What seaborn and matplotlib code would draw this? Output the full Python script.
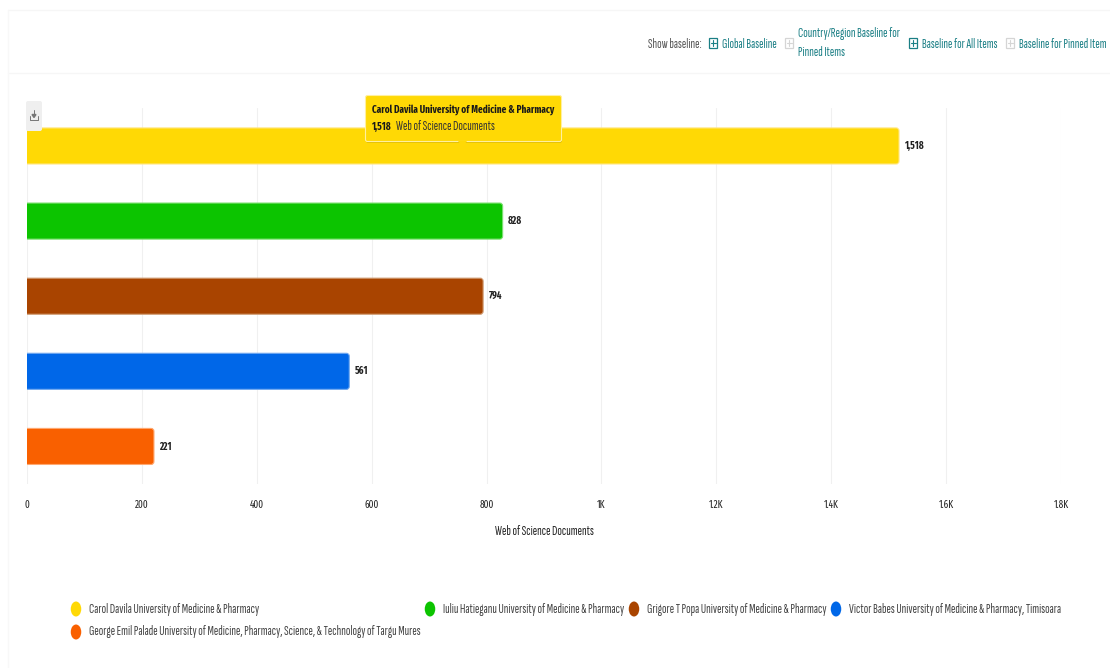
import pandas as pd
import matplotlib
matplotlib.use("Agg")
import matplotlib.pyplot as plt
import seaborn as sns
from matplotlib.patches import Ellipse, FancyBboxPatch, Polygon, Rectangle

universities = [
    "Carol Davila University of Medicine & Pharmacy",
    "Iuliu Hatieganu University of Medicine & Pharmacy",
    "Grigore T Popa University of Medicine & Pharmacy",
    "Victor Babes University of Medicine & Pharmacy, Timisoara",
    "George Emil Palade University of Medicine, Pharmacy, Science, & Technology of Targu Mures",
]
documents = [1518, 828, 794, 561, 221]
document_labels = ["1,518", "828", "794", "561", "221"]
tick_values = [0, 200, 400, 600, 800, 1000, 1200, 1400, 1600, 1800]
tick_labels = ["0", "200", "400", "600", "800", "1K", "1.2K", "1.4K", "1.6K", "1.8K"]
bar_colors = ["#FFD905", "#0CC400", "#A94400", "#0067E8", "#F96000"]
edge_colors = ["#FFE680", "#7BE070", "#D09A70", "#70A8F0", "#FFA870"]

W, H = 1110, 668
TEAL = "#1B7F85"
GREY = "#555555"
FONT_SIZE = 9.5
FIRA_SIZE = 7.2
FIRA_FONT = ["Fira Sans Extra Condensed", "Lato", "DejaVu Sans"]

sns.set_theme(style="white")
plt.rcParams["font.family"] = ["Sofia Sans Extra Condensed", "Fira Sans Extra Condensed", "Lato", "DejaVu Sans"]

df = pd.DataFrame({"University": universities, "Documents": documents})

fig = plt.figure(figsize=(W / 100, H / 100), dpi=100, facecolor="white")
ax = fig.add_axes([27 / W, 1 - 484 / H, (1061 - 27) / W, (484 - 108.4) / H])

sns.barplot(
    data=df, y="University", x="Documents", hue="University",
    palette=bar_colors, width=0.48, dodge=False, legend=False, ax=ax,
)

ax.set_xlim(0, 1800)
ax.set_xticks(tick_values)
# the dot in 1.2K gets lost in the narrower font
ax.set_xticklabels(tick_labels, fontsize=FIRA_SIZE, family=FIRA_FONT, color="#222222")
ax.tick_params(axis="x", length=0, pad=11)
ax.set_yticks([])
ax.set_ylabel("")
ax.set_xlabel("Web of Science Documents", fontsize=FONT_SIZE, color="#222222", labelpad=11)
ax.grid(axis="x", color="#F0F0F0", linewidth=0.8)
ax.set_axisbelow(True)
ax.spines[["top", "right", "left", "bottom"]].set_visible(False)

# rounded ends on the right side of each bar, left end is clipped by the axes
for i, container in enumerate(ax.containers):
    bar = container[0]
    bar.set_alpha(0)
    rounded = FancyBboxPatch(
        (bar.get_x() - 20, bar.get_y()), bar.get_width() + 20, bar.get_height(),
        boxstyle="round,pad=0,rounding_size=5", mutation_aspect=0.008,
        facecolor=bar_colors[i], edgecolor=edge_colors[i], linewidth=0.8, zorder=3,
    )
    ax.add_patch(rounded)
    ax.bar_label(container, labels=[document_labels[i]], padding=4, fontsize=FIRA_SIZE,
                 fontweight="bold", family=FIRA_FONT, color="#222222")

# overlay in reference pixels for the page furniture around the chart
over = fig.add_axes([0, 0, 1, 1], zorder=5)
over.set_xlim(0, W)
over.set_ylim(H, 0)
over.axis("off")
over.patch.set_alpha(0)

for y in (10, 73):
    over.plot([8, W], [y, y], color="#F6F6F6", lw=1)
over.plot([8, 8], [10, H], color="#F8F8F8", lw=1)


def label(x, y, text, color=TEAL, size=FONT_SIZE, **kw):
    over.text(x, y, text, color=color, fontsize=size, va="center", **kw)


def plus_box(x, y, color):
    over.add_patch(Rectangle((x - 4, y - 5), 8, 10, fill=False, edgecolor=color, lw=0.9))
    over.plot([x - 2.5, x + 2.5], [y, y], color=color, lw=0.8)
    over.plot([x, x], [y - 3, y + 3], color=color, lw=0.8)


label(648, 44, "Show baseline:", color=GREY)
plus_box(713, 43, TEAL)
label(722, 44, "Global Baseline")
plus_box(789, 43, "#D5D5D5")
label(798, 34, "Country/Region Baseline for")
label(798, 53, "Pinned Items")
plus_box(913, 43, TEAL)
label(922, 44, "Baseline for All Items")
plus_box(1010, 43, "#D5D5D5")
label(1019, 44, "Baseline for Pinned Item")

# download button
over.add_patch(FancyBboxPatch((26, 101), 16, 30, boxstyle="round,pad=0,rounding_size=2",
                              facecolor="#EFEFEF", edgecolor="none", zorder=4))
over.plot([30, 30, 38, 38], [116, 120, 120, 116], color="#777777", lw=0.7, zorder=5)
over.plot([34, 34], [110, 116], color="#777777", lw=0.7, zorder=5)
over.add_patch(Polygon([[32, 114.5], [36, 114.5], [34, 117.5]], color="#777777", zorder=5))

# tooltip
over.add_patch(FancyBboxPatch((366, 97), 196, 46, boxstyle="round,pad=0,rounding_size=2",
                              facecolor="#C8A800", edgecolor="none", alpha=0.5, zorder=5))
over.add_patch(FancyBboxPatch((365.5, 95.5), 196, 46, boxstyle="round,pad=0,rounding_size=2",
                              facecolor="#FFD905", edgecolor="#FFF0A0", lw=0.8, zorder=6))
over.add_patch(Polygon([[458, 141], [467, 141], [462.5, 147]], facecolor="#FFD905",
                       edgecolor="none", zorder=7))
label(372, 110, universities[0], color="#1A1A1A", fontweight="bold", size=FIRA_SIZE,
      family=FIRA_FONT, zorder=8)
label(372, 127, document_labels[0], color="#1A1A1A", fontweight="bold", size=FIRA_SIZE,
      family=FIRA_FONT, zorder=8)
label(396, 127, "Web of Science Documents", color="#333333", zorder=8)

# legend
legend_pos = [(76, 609), (430, 609), (634, 609), (836, 609), (76, 632)]
for (x, y), name, color in zip(legend_pos, universities, bar_colors):
    over.add_patch(Ellipse((x, y), 10.5, 15, facecolor=color, edgecolor="none"))
    label(x + 13, y, name, color="#444444")

fig.savefig("out.png", dpi=100)
